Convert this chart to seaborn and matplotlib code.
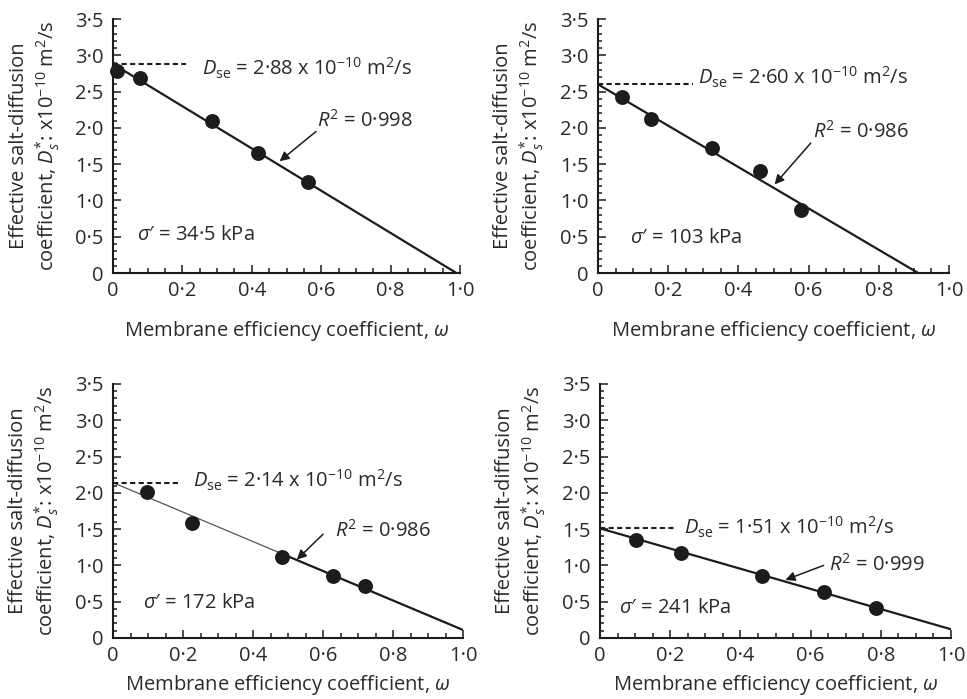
import numpy as np
import pandas as pd
import matplotlib
matplotlib.use("Agg")
import matplotlib.pyplot as plt
import seaborn as sns

# Measured salt-diffusion coefficients (x10^-10 m2/s) versus membrane efficiency
omega_345 = [0.012, 0.077, 0.284, 0.418, 0.561]
ds_345 = [2.79, 2.69, 2.09, 1.66, 1.26]
omega_103 = [0.069, 0.150, 0.325, 0.461, 0.579]
ds_103 = [2.42, 2.12, 1.72, 1.40, 0.87]
omega_172 = [0.097, 0.225, 0.484, 0.627, 0.720]
ds_172 = [2.01, 1.58, 1.12, 0.85, 0.71]
omega_241 = [0.103, 0.231, 0.461, 0.638, 0.786]
ds_241 = [1.355, 1.167, 0.859, 0.629, 0.413]

# Linear fits: intercept D_se and slope, plus goodness of fit
dse = [2.88, 2.60, 2.14, 1.51]
slopes = [-2.91, -2.85, -2.03, -1.39]
r2_labels = ["0·998", "0·986", "0·986", "0·999"]
stress_labels = ["34·5", "103", "172", "241"]

omegas = [omega_345, omega_103, omega_172, omega_241]
ds_vals = [ds_345, ds_103, ds_172, ds_241]

# Annotation placement (data coordinates)
dash_end = [0.21, 0.27, 0.19, 0.214]
dse_text_pos = [(0.256, 2.72), (0.285, 2.60), (0.227, 2.07), (0.238, 1.42)]
r2_text_pos = [(0.588, 2.02), (0.613, 1.87), (0.633, 1.40), (0.651, 0.93)]
arrow_tail = [(0.585, 1.95), (0.606, 1.79), (0.60, 1.43), (0.637, 1.00)]
arrow_tip = [(0.48, 1.54), (0.503, 1.22), (0.525, 1.08), (0.528, 0.80)]
stress_text_pos = [(0.07, 0.45), (0.09, 0.41), (0.086, 0.41), (0.055, 0.34)]
thick_from = [0.0, 0.0, 0.48, 0.0]
xlabel_pad = [13, 13, 5, 5]

sns.set_theme(style="ticks")
plt.rcParams.update({
    "font.family": ["Open Sans", "DejaVu Sans"],
    "mathtext.fontset": "custom",
    "mathtext.rm": "Open Sans",
    "mathtext.it": "Open Sans:italic",
    "mathtext.bf": "Open Sans:bold",
    "mathtext.sf": "Open Sans",
    "axes.unicode_minus": True,
})

INK = "#1c1c1c"
TXT = "#2a2a2a"
FS = 14.5

fig = plt.figure(figsize=(9.67, 6.99), dpi=100)
axes_rects = [
    [0.1169, 0.6094, 0.3588, 0.3634],
    [0.6184, 0.6094, 0.3630, 0.3634],
    [0.1169, 0.0873, 0.3620, 0.3634],
    [0.6205, 0.0873, 0.3630, 0.3634],
]

yticks = [0, 0.5, 1.0, 1.5, 2.0, 2.5, 3.0, 3.5]
ytick_labels = ["0", "0·5", "1·0", "1·5", "2·0", "2·5", "3·0", "3·5"]
xticks = [0, 0.2, 0.4, 0.6, 0.8, 1.0]
xtick_labels = ["0", "0·2", "0·4", "0·6", "0·8", "1·0"]

for i, rect in enumerate(axes_rects):
    ax = fig.add_axes(rect)
    df = pd.DataFrame({"omega": omegas[i], "ds": ds_vals[i]})

    # fitted line
    x_end = min(1.0, -dse[i] / slopes[i])
    fit = pd.DataFrame({"omega": [0.0, x_end]})
    fit["ds"] = dse[i] + slopes[i] * fit["omega"]
    if thick_from[i] > 0:
        sns.lineplot(data=fit, x="omega", y="ds", ax=ax, color="#555555",
                     lw=0.9, zorder=2)
        thick = pd.DataFrame({"omega": [thick_from[i], x_end]})
        thick["ds"] = dse[i] + slopes[i] * thick["omega"]
        sns.lineplot(data=thick, x="omega", y="ds", ax=ax, color=INK,
                     lw=1.6, zorder=2)
    else:
        sns.lineplot(data=fit, x="omega", y="ds", ax=ax, color=INK,
                     lw=1.6, zorder=2)

    # intercept marker
    dash = pd.DataFrame({"omega": [0.0, dash_end[i]], "ds": [dse[i], dse[i]]})
    sns.lineplot(data=dash, x="omega", y="ds", ax=ax, color=INK, lw=1.5,
                 linestyle=(0, (2.5, 1.6)), zorder=2)

    sns.scatterplot(data=df, x="omega", y="ds", ax=ax, color=INK, s=115,
                    edgecolor=INK, linewidth=0, zorder=3, clip_on=False)

    ax.set_xlim(0, 1.0)
    ax.set_ylim(0, 3.5)
    ax.set_xticks(xticks, xtick_labels)
    ax.set_yticks(yticks, ytick_labels)
    ax.set_xticks(np.arange(0, 1.0001, 0.05), minor=True)
    ax.set_yticks(np.arange(0, 3.5001, 0.1), minor=True)
    ax.tick_params(axis="both", which="both", direction="in", colors=INK,
                   labelcolor=TXT, labelsize=FS, width=1.1)
    ax.tick_params(axis="x", which="major", length=6, pad=6)
    ax.tick_params(axis="x", which="minor", length=3.5)
    ax.tick_params(axis="y", which="major", length=5.5, pad=7)
    ax.tick_params(axis="y", which="minor", length=3)
    for side in ["top", "right"]:
        ax.spines[side].set_visible(False)
    for side in ["left", "bottom"]:
        ax.spines[side].set_linewidth(1.5)
        ax.spines[side].set_color(INK)

    ax.set_xlabel(r"Membrane efficiency coefficient, $\omega$", fontsize=FS,
                  color=TXT, labelpad=xlabel_pad[i])
    ax.set_ylabel("Effective salt-diffusion\n"
                  r"coefficient, $D_s^{*}$: x10$^{-10}$ m$^2$/s",
                  fontsize=FS, color=TXT, linespacing=1.2)
    ax.yaxis.set_label_coords(-0.148, 0.5)

    dse_str = f"{dse[i]:.2f}".replace(".", "·")
    ax.text(*dse_text_pos[i],
            r"$D_{\rm se}$ = " + dse_str + r" x 10$^{-10}$ m$^2$/s",
            fontsize=FS, color=TXT, va="baseline", ha="left")
    ax.text(*r2_text_pos[i], r"$R^2$ = " + r2_labels[i], fontsize=FS,
            color=TXT, va="baseline", ha="left")
    ax.text(*stress_text_pos[i], r"$\sigma$′ = " + stress_labels[i] + " kPa",
            fontsize=FS, color=TXT, va="baseline", ha="left")
    ax.annotate("", xy=arrow_tip[i], xytext=arrow_tail[i],
                arrowprops=dict(arrowstyle="-|>", color=INK, lw=1.1,
                                mutation_scale=14, shrinkA=0, shrinkB=0))

fig.savefig("out.png", dpi=100)
